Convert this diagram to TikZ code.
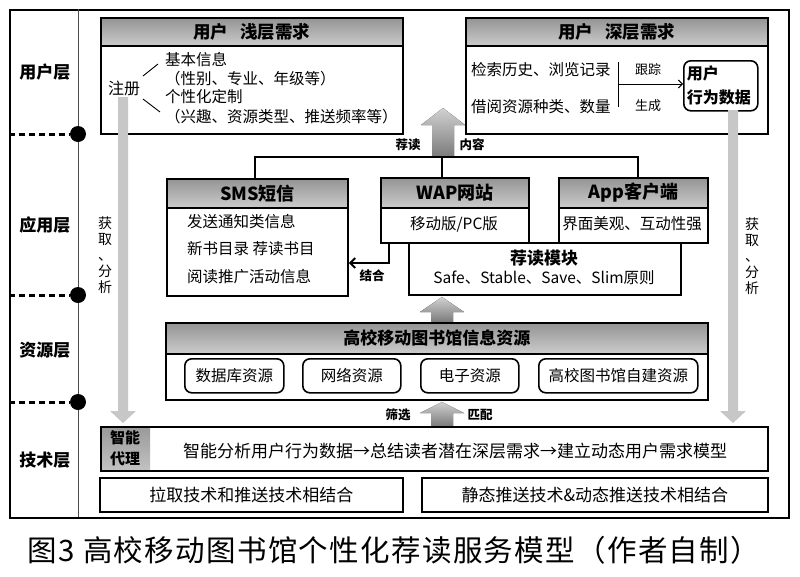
\documentclass[tikz,border=0pt]{standalone}
\usepackage{fontspec}
\setmainfont{Noto Sans CJK SC}
\newfontfamily\capfont[LetterSpace=4.5]{Noto Sans CJK SC}
\usetikzlibrary{arrows.meta}
\newcommand{\bigup}[4]{\fill[top color=black!18,bottom color=black!52] (#1-11,#2) -- (#1-11,#3+#4) -- (#1-22,#3+#4) -- (#1,#3) -- (#1+22,#3+#4) -- (#1+11,#3+#4) -- (#1+11,#2) -- cycle;}
\newcommand{\longdown}[3]{\fill[black!22] (#1-5,#2) -- (#1-5,#3-12) -- (#1-13,#3-12) -- (#1,#3) -- (#1+13,#3-12) -- (#1+5,#3-12) -- (#1+5,#2) -- cycle;}
\begin{document}
\begin{tikzpicture}[x=1pt,y=-1pt,
 box/.style={draw,line width=1.8pt,inner sep=0pt,anchor=north west,fill=white},
 hdr/.style={draw,line width=1.8pt,inner sep=0pt,anchor=north west,top color=black!42,bottom color=black!20,font=\fontsize{17.5}{20}\selectfont\bfseries},
 rbox/.style={draw,line width=1.6pt,rounded corners=7pt,inner sep=0pt,anchor=north west,font=\fontsize{15.5}{18}\selectfont},
 txt/.style={inner sep=0pt,font=\fontsize{15.5}{18}\selectfont},
 lbl/.style={inner sep=0pt,font=\fontsize{12.5}{14}\selectfont\bfseries},
 layer/.style={inner sep=0pt,font=\fontsize{17}{20}\selectfont\bfseries},
 conn/.style={line width=2pt},
 thinline/.style={line width=0.9pt},
 dashline/.style={line width=3pt,dash pattern=on 6pt off 4pt},
 dot/.style={circle,fill=black,minimum size=16pt,inner sep=0pt},
 vtext/.style={inner sep=0pt,align=center,font=\fontsize{14}{16}\selectfont}
]
\useasboundingbox (0,0) rectangle (800,576);
\fill[white] (0,0) rectangle (800,576);
% frame
\node[draw,line width=1.5pt,inner sep=0pt,anchor=north west,minimum width=779pt,minimum height=508pt] (frame) at (9,9) {};
\coordinate (sepT) at (78,9);
\coordinate (sepB) at (78,517);
\draw[line width=0.8pt,black!70] (sepT) -- (sepB);
\node[dot] (d1) at (78,134) {};
\node[dot] (d2) at (78,295) {};
\node[dot] (d3) at (78,402) {};
\draw[dashline] (frame.west |- d1) -- (d1);
\draw[dashline] (frame.west |- d2) -- (d2);
\draw[dashline] (frame.west |- d3) -- (d3);
\node[layer] (L1) at (45,72) {用户层};
\node[layer] (L2) at (45,225) {应用层};
\node[layer] (L3) at (45,350) {资源层};
\node[layer] (L4) at (45,460) {技术层};

% big arrow upper
\bigup{443}{157}{108}{17}
\node[lbl] (tjd) at (408,145) {荐读};
\node[lbl] (nr) at (472,145) {内容};

% user shallow
\node[box,minimum width=302pt,minimum height=116pt] (shallow) at (100,17) {};
\node[hdr,minimum width=302pt,minimum height=28pt] (shallowH) at (100,17) {用户\hspace{12pt}浅层需求};
\node[txt,font=\fontsize{16}{18}\selectfont] (reg) at (124,88) {注册};
\node[txt,anchor=west] (basic) at (165,60) {基本信息};
\node[txt,anchor=west] (basic2) at (165,79) {（性别、专业、年级等）};
\node[txt,anchor=west] (custom) at (165,97) {个性化定制};
\node[txt,anchor=west] (custom2) at (165,117) {（兴趣、资源类型、推送频率等）};
\draw[thinline] (143,76) -- (158,64);
\draw[thinline] (143,99) -- (160,112);

% user deep
\node[box,minimum width=302pt,minimum height=116pt] (deep) at (465,17) {};
\node[hdr,minimum width=302pt,minimum height=28pt] (deepH) at (465,17) {用户\hspace{12pt}深层需求};
\node[txt,anchor=west] (hist) at (471,70) {检索历史、浏览记录};
\node[txt,anchor=west] (borrow) at (471,107) {借阅资源种类、数量};
\node[rbox,minimum width=74pt,minimum height=50pt,align=left,text width=68pt,font=\fontsize{16}{24}\selectfont\bfseries] (behav) at (683,60) {用户\\行为数据};
\coordinate (brT) at (618,62);
\coordinate (brB) at (618,107);
\coordinate (brM) at (618,84);
\draw[thinline] (brT) -- (brB);
\draw[thinline,-{Straight Barb[length=4pt,width=8pt]}] (brM) -- (brM -| behav.west);
\node[txt,font=\fontsize{13}{15}\selectfont] (track) at (648,70) {跟踪};
\node[txt,font=\fontsize{13}{15}\selectfont] (gen) at (648,106) {生成};

% long arrows
\longdown{123}{97}{423}
\longdown{733}{110}{423}
\node[vtext] (va1) at (105,255) {获\\取\\、\\分\\析};
\node[vtext] (va2) at (752,256) {获\\取\\、\\分\\析};

% application layer
\node[box,minimum width=272pt,minimum height=52pt] (module) at (408,242) {};
\node[inner sep=0pt,font=\fontsize{17}{20}\selectfont\bfseries] (modT) at (544,258) {荐读模块};
\node[txt] (modS) at (544,278) {Safe、Stable、Save、Slim原则};

\node[box,minimum width=181pt,minimum height=117pt] (sms) at (166,178) {};
\node[hdr,minimum width=181pt,minimum height=29pt,font=\fontsize{18}{20}\selectfont\bfseries] (smsH) at (166,178) {SMS短信};
\node[txt,anchor=west] (s1) at (187,222) {发送通知类信息};
\node[txt,anchor=west] (s2) at (187,249) {新书目录 荐读书目};
\node[txt,anchor=west] (s3) at (187,277) {阅读推广活动信息};

\node[box,minimum width=148pt,minimum height=65pt] (wap) at (380,177) {};
\node[hdr,minimum width=148pt,minimum height=30pt,font=\fontsize{18}{20}\selectfont\bfseries] (wapH) at (380,177) {WAP网站};
\node[txt] (w1) at (454,224) {移动版/PC版};

\node[box,minimum width=149pt,minimum height=65pt] (app) at (558,177) {};
\node[hdr,minimum width=149pt,minimum height=30pt,font=\fontsize{18}{20}\selectfont\bfseries] (appH) at (558,177) {App客户端};
\node[txt] (a1) at (632,224) {界面美观、互动性强};

\coordinate (tl) at (255,157);
\coordinate (tm) at (442,157);
\coordinate (tr) at (638,157);
\draw[conn] (tl |- sms.north) -- (tl) -- (tr) -- (tr |- app.north);
\draw[conn] (tm) -- (tm |- wap.north);
\coordinate (jh) at (389,263);
\draw[conn,-{Straight Barb[length=5pt,width=10pt]}] (jh |- wap.south) -- (jh) -- (jh -| sms.east);
\node[lbl] (jhT) at (372,276) {结合};

% middle arrow
\bigup{442}{322}{297}{15}

% resource layer
\node[box,minimum width=542pt,minimum height=77pt] (res) at (165,322) {};
\node[hdr,minimum width=542pt,minimum height=31pt,font=\fontsize{17}{20}\selectfont\bfseries] (resH) at (165,322) {高校移动图书馆信息资源};
\node[rbox,minimum width=99pt,minimum height=34pt] (r1) at (184,358) {数据库资源};
\node[rbox,minimum width=98pt,minimum height=34pt] (r2) at (302,358) {网络资源};
\node[rbox,minimum width=98pt,minimum height=34pt] (r3) at (420,358) {电子资源};
\node[rbox,minimum width=159pt,minimum height=34pt] (r4) at (538,358) {高校图书馆自建资源};

% lower arrow
\bigup{442}{426}{402}{11}
\node[lbl] (sx) at (398,415) {筛选};
\node[lbl] (pp) at (480,415) {匹配};

% technology layer
\node[inner sep=0pt,anchor=north west,minimum width=50pt,minimum height=44pt,top color=black!40,bottom color=black!24,align=center,font=\fontsize{15}{21}\selectfont\bfseries] (agentH) at (100,426) {智能\\代理};
\node[draw,line width=1.8pt,inner sep=0pt,anchor=north west,minimum width=667pt,minimum height=44pt] (agent) at (100,426) {};
\node[inner sep=0pt,font=\fontsize{17}{20}\selectfont] (agentT) at (455,451) {智能分析用户行为数据→总结读者潜在深层需求→建立动态用户需求模型};
\node[box,minimum width=303pt,minimum height=34pt,font=\fontsize{17}{20}\selectfont] (pull) at (99,477) {拉取技术和推送技术相结合};
\node[box,minimum width=346pt,minimum height=34pt,font=\fontsize{17}{20}\selectfont] (push) at (421,477) {静态推送技术\&动态推送技术相结合};

% caption
\node[inner sep=0pt,font=\capfont\fontsize{29.5}{32}\selectfont] (cap) at (394,550) {图3\hspace{8pt}高校移动图书馆个性化荐读服务模型（作者自制）};
\end{tikzpicture}
\end{document}
